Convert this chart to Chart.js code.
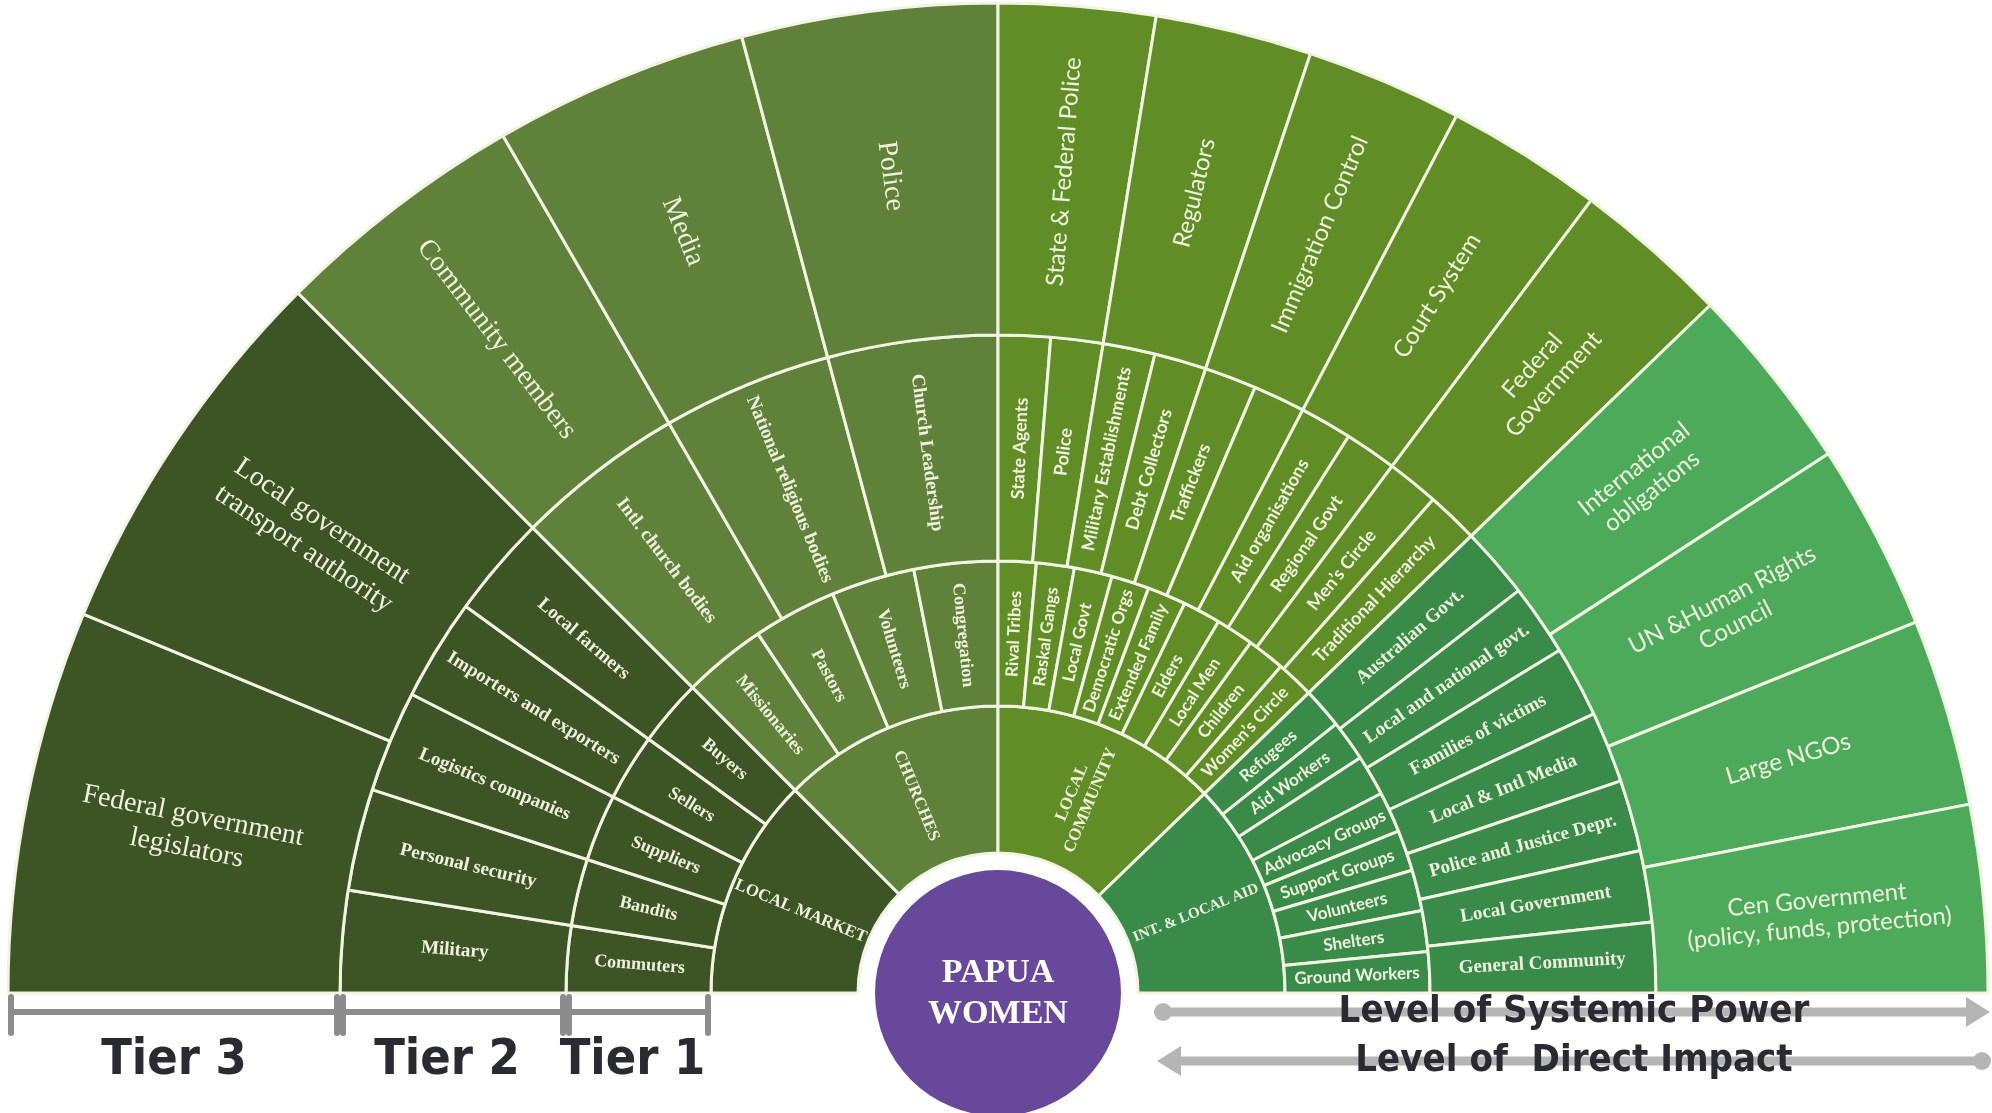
<!DOCTYPE html>
<html>
<head>
<meta charset="utf-8">
<script src="https://cdn.jsdelivr.net/npm/chart.js@4.4.0/dist/chart.umd.min.js"></script>
<style>
  html, body { margin: 0; padding: 0; background: #ffffff; }
  #wrap { width: 1992px; height: 1113px; }
</style>
</head>
<body>
<div id="wrap"><canvas id="myChart" width="1992" height="1113"></canvas></div>
<script>
// parent groups, left (180deg) to right (0deg)
var groupNames = ['LOCAL MARKET', 'CHURCHES', 'LOCAL\nCOMMUNITY', 'INT. & LOCAL AID'];
var groupSpan = [45, 45, 46, 44];

// tier 1 ring
var tier1Labels = ['Commuters', 'Bandits', 'Suppliers', 'Sellers', 'Buyers',
  'Missionaries', 'Pastors', 'Volunteers', 'Congregation',
  'Rival Tribes', 'Raskal Gangs', 'Local Govt', 'Democratic Orgs', 'Extended Family', 'Elders', 'Local Men', 'Children', 'Women\u2019s Circle',
  'Refugees', 'Aid Workers', '', 'Advocacy Groups', 'Support Groups', 'Volunteers', 'Shelters', 'Ground Workers'];
var tier1Span = [9, 9, 9, 9, 9,
  11.25, 11.25, 11.25, 11.25,
  5.1, 5.1, 5.1, 5.1, 5.2, 5.1, 5.1, 5.1, 5.1,
  5.5, 5.5, 5.5, 5.5, 5.5, 5.5, 5.5, 5.5];
var tier1Group = [0, 0, 0, 0, 0, 1, 1, 1, 1, 2, 2, 2, 2, 2, 2, 2, 2, 2, 3, 3, 3, 3, 3, 3, 3, 3];

// tier 2 ring
var tier2Labels = ['Military', 'Personal security', 'Logistics companies', 'Importers and exporters', 'Local farmers',
  'Intl. church bodies', 'National religious bodies', 'Church Leadership',
  'State Agents', 'Police', 'Military Establishments', 'Debt Collectors', 'Traffickers', '', 'Aid organisations', 'Regional Govt', 'Men\u2019s Circle', 'Traditional Hierarchy',
  'Australian Govt.', 'Local and national govt.', 'Families of victims', 'Local & Intl Media', 'Police and Justice Depr.', 'Local Government', 'General Community'];
var tier2Span = [9, 9, 9, 9, 9,
  15, 15, 15,
  4.6, 4.6, 4.6, 4.6, 4.6, 4.6, 4.6, 4.6, 4.6, 4.6,
  6.3, 6.3, 6.3, 6.3, 6.3, 6.3, 6.2];
var tier2Group = [0, 0, 0, 0, 0, 1, 1, 1, 2, 2, 2, 2, 2, 2, 2, 2, 2, 2, 3, 3, 3, 3, 3, 3, 3];

// tier 3 ring (outer)
var tier3Labels = ['Federal government\nlegislators', 'Local government\ntransport authority',
  'Community members', 'Media', 'Police',
  'State & Federal Police', 'Regulators', 'Immigration Control', 'Court System', 'Federal\nGovernment',
  'International\nobligations', 'UN &Human Rights\nCouncil', 'Large NGOs', 'Cen Government\n(policy, funds, protection)'];
var tier3Span = [22.5, 22.5, 15, 15, 15, 9.2, 9.2, 9.2, 9.2, 9.2, 11, 11, 11, 11];
var tier3Group = [0, 0, 1, 1, 1, 2, 2, 2, 2, 2, 3, 3, 3, 3];

var tierNames = ['Tier 3', 'Tier 2', 'Tier 1'];
var axisNotes = ['Level of Systemic Power', 'Level of  Direct Impact'];
var centreText = ['PAPUA', 'WOMEN'];

var groupColors = ['#3d5525', '#5f813a', '#608d26', '#3a8b4a'];
var outerAidColor = '#4caa5a';

function colorsFor(groups, outer) {
  return groups.map(function(g) {
    if (outer && g == 3) return outerAidColor;
    return groupColors[g];
  });
}

var ringLabels = [tier3Labels, tier2Labels, tier1Labels, groupNames];
var ringGroups = [tier3Group, tier2Group, tier1Group, [0, 1, 2, 3]];

var SERIF = '"Liberation Serif", "DejaVu Serif", serif';
var SANS = 'Lato, "Open Sans", sans-serif';
var COND = '"DejaVu Sans Condensed", "Liberation Sans Narrow", Roboto, sans-serif';

// font size + css font for a ring / group
function labelFont(ring, g) {
  if (ring == 0) return g < 2 ? [28, '28px ' + SERIF] : [24, '24px ' + SANS];
  if (ring == 1) return g == 2 ? [18, 'bold 18px ' + SANS] : [19, 'bold 19px ' + SERIF];
  if (ring == 2) return g < 2 ? [18, 'bold 18px ' + SERIF] : [17, 'bold 17px ' + SANS];
  return g == 3 ? [15, 'bold 15px ' + SERIF] : [17, 'bold 17px ' + SERIF];
}

var sliceText = {
  id: 'sliceText',
  afterDatasetsDraw: function(chart) {
    var ctx = chart.ctx;
    chart.data.datasets.forEach(function(ds, i) {
      var meta = chart.getDatasetMeta(i);
      meta.data.forEach(function(arc, j) {
        var txt = ringLabels[i][j];
        if (!txt) return;
        var p = arc.getProps(['x', 'y', 'startAngle', 'endAngle', 'innerRadius', 'outerRadius'], true);
        var a = (p.startAngle + p.endAngle) / 2;
        var r = (p.innerRadius + p.outerRadius) / 2;
        // left half reads towards the centre, right half reads outwards
        var rot = a < -Math.PI / 2 ? a + Math.PI : a;
        var f = labelFont(i, ringGroups[i][j]);
        var lines = txt.split('\n');
        var lh = f[0] * 1.18;
        ctx.save();
        ctx.translate(p.x + r * Math.cos(a), p.y + r * Math.sin(a));
        ctx.rotate(rot);
        ctx.font = f[1];
        ctx.fillStyle = '#eef2dc';
        ctx.textAlign = 'center';
        ctx.textBaseline = 'middle';
        for (var k = 0; k < lines.length; k++) {
          ctx.fillText(lines[k], 0, (k - (lines.length - 1) / 2) * lh);
        }
        ctx.restore();
      });
    });
  }
};

function arrowHead(ctx, x, y, dir) {
  ctx.beginPath();
  ctx.moveTo(x, y);
  ctx.lineTo(x - dir * 24, y - 15);
  ctx.lineTo(x - dir * 24, y + 15);
  ctx.closePath();
  ctx.fill();
}

var extras = {
  id: 'extras',
  afterDraw: function(chart) {
    var ctx = chart.ctx;
    var core = chart.getDatasetMeta(3).data[0];
    var cx = core.x, cy = core.y;

    // centre disc
    ctx.save();
    ctx.beginPath();
    ctx.arc(cx, cy, core.innerRadius - 17, 0, Math.PI * 2);
    ctx.fillStyle = '#68489b';
    ctx.fill();
    ctx.fillStyle = '#ffffff';
    ctx.font = 'bold 34px ' + SERIF;
    ctx.textAlign = 'center';
    ctx.textBaseline = 'middle';
    ctx.fillText(centreText[0], cx, cy - 20);
    ctx.fillText(centreText[1], cx, cy + 21);

    // tier brackets under the left half
    var by = cy + 19;
    ctx.strokeStyle = '#8c8c8c';
    ctx.lineWidth = 6;
    ctx.lineCap = 'round';
    ctx.font = 'bold 50px ' + COND;
    for (var t = 0; t < 3; t++) {
      var el = chart.getDatasetMeta(t).data[0];
      var x1 = cx - el.outerRadius + 3;
      var x2 = cx - el.innerRadius - 3;
      ctx.beginPath();
      ctx.moveTo(x1, by);
      ctx.lineTo(x2, by);
      ctx.moveTo(x1, cy + 4);
      ctx.lineTo(x1, cy + 40);
      ctx.moveTo(x2, cy + 4);
      ctx.lineTo(x2, cy + 40);
      ctx.stroke();
      ctx.fillStyle = '#2a2a32';
      ctx.fillText(tierNames[t], (x1 + x2) / 2 + (t == 0 ? 0 : -6), cy + 68);
    }

    // power / impact arrows on the right half
    var y1 = cy + 19, y2 = cy + 68;
    ctx.strokeStyle = '#b5b5b5';
    ctx.fillStyle = '#b5b5b5';
    ctx.lineWidth = 9;
    ctx.lineCap = 'butt';
    ctx.beginPath();
    ctx.moveTo(1163, y1); ctx.lineTo(1970, y1);
    ctx.moveTo(1982, y2); ctx.lineTo(1176, y2);
    ctx.stroke();
    arrowHead(ctx, 1990, y1, 1);
    arrowHead(ctx, 1157, y2, -1);
    ctx.beginPath(); ctx.arc(1163, y1, 9, 0, Math.PI * 2); ctx.fill();
    ctx.beginPath(); ctx.arc(1982, y2, 9, 0, Math.PI * 2); ctx.fill();

    ctx.fillStyle = '#2a2a32';
    ctx.font = 'bold 38px ' + COND;
    ctx.fillText(axisNotes[0], 1574, y1);
    ctx.fillText(axisNotes[1], 1574, y2);
    ctx.restore();
  }
};

var ctx = document.getElementById('myChart');
var chart = new Chart(ctx, {
  type: 'doughnut',
  data: {
    datasets: [
      { data: tier3Span, backgroundColor: colorsFor(tier3Group, true), weight: 332 },
      { data: tier2Span, backgroundColor: colorsFor(tier2Group, false), weight: 226 },
      { data: tier1Span, backgroundColor: colorsFor(tier1Group, false), weight: 145 },
      { data: groupSpan, backgroundColor: colorsFor([0, 1, 2, 3], false), weight: 147 }
    ]
  },
  options: {
    responsive: false,
    animation: false,
    events: [],
    rotation: -90,
    circumference: 180,
    radius: 990,
    cutout: '14.14%',
    borderColor: '#f1f4e2',
    borderWidth: 3,
    layout: { padding: { left: 4, right: 0, top: 3, bottom: 120 } },
    plugins: {
      legend: { display: false },
      tooltip: { enabled: false },
      title: { display: false }
    }
  },
  plugins: [sliceText, extras]
});
</script>
</body>
</html>
